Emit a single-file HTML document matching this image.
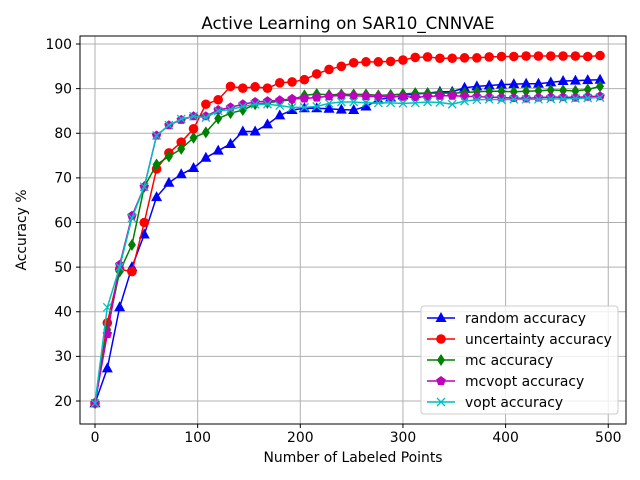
<!DOCTYPE html>
<html><head><meta charset="utf-8"><style>
body{margin:0;background:#fff}
svg{font-family:"DejaVu Sans","Liberation Sans",sans-serif;display:block}
</style></head><body>
<svg id="chart" width="640" height="480" viewBox="0 0 640 480">
<rect width="640" height="480" fill="#fff"/>
<text x="348" y="29" font-size="16.7" text-anchor="middle">Active Learning on SAR10_CNNVAE</text>
<g id="grid"></g><g id="ticks"></g><g id="series"></g>
<rect x="80" y="36" width="546" height="388" fill="none" stroke="#000" stroke-width="1"/>
<text x="353" y="462" font-size="13.9" text-anchor="middle">Number of Labeled Points</text>
<text transform="translate(26,230) rotate(-90)" font-size="13.9" text-anchor="middle">Accuracy %</text>
<g id="legend"></g>
</svg>
<script>
const xValues=[0,12,24,36,48,60,72,84,96,108,120,132,144,156,168,180,192,204,216,228,240,252,264,276,288,300,312,324,336,348,360,372,384,396,408,420,432,444,456,468,480,492];
const randomAcc=[19.5,27.3,41,50,57.3,65.7,68.9,70.8,72.2,74.5,76.1,77.6,80.4,80.4,82.0,84.0,85.2,85.6,85.6,85.5,85.3,85.2,86.0,87.5,88.0,88.5,88.8,89.0,89.3,89.3,90.2,90.5,90.7,90.9,91.0,91.1,91.1,91.4,91.7,91.8,91.9,92.0];
const uncertaintyAcc=[19.5,37.5,49.5,49,60,72,75.6,78,81,86.5,87.5,90.5,90.1,90.4,90.1,91.3,91.5,92,93.3,94.3,95,95.8,96,96,96.1,96.4,97,97.1,96.8,96.8,96.9,96.9,97.1,97.2,97.2,97.3,97.3,97.3,97.3,97.3,97.2,97.4];
const mcAcc=[19.5,36,49,55,68,73,74.8,76.5,79,80.2,83.3,84.5,85.2,86.5,86.8,87.2,87.5,88.5,88.8,88.6,88.7,88.7,88.7,88.5,88.6,88.8,89,89,89,89,89.1,89.3,89.4,89.4,89.3,89.4,89.5,89.7,89.6,89.5,89.8,90.5];
const mcvoptAcc=[19.5,35,50.5,61.5,68,79.5,81.8,83,83.8,83.8,85.2,85.8,86.5,87,87.2,87.4,87.7,87.8,88,88.3,88.5,88.4,88.3,88.2,88.2,88.2,88.1,88.2,88.4,88.4,88.3,88.2,88.1,88.0,87.9,87.8,88.0,88.1,88.1,88.0,88.2,88.3];
const voptAcc=[19.5,41,50,61,68,79.5,81.8,83.2,83.8,83.5,85,85.3,86,86.5,86.5,86.2,85.8,85.8,86,86.7,87,87,86.8,86.8,86.8,86.7,86.8,87,86.9,86.5,87.2,87.5,87.6,87.5,87.6,87.6,87.6,87.7,87.7,87.8,87.9,88.0];
const xTicks=[0,100,200,300,400,500];
const yTicks=[20,30,40,50,60,70,80,90,100];
const seriesNames=["random accuracy","uncertainty accuracy","mc accuracy","mcvopt accuracy","vopt accuracy"];

const NS="http://www.w3.org/2000/svg";
function X(v){return 95+v*1.0265;}
function Y(v){return 401-(v-20)*4.4625;}
function mk(tag,attrs,parent){const e=document.createElementNS(NS,tag);for(const k in attrs)e.setAttribute(k,attrs[k]);parent.appendChild(e);return e;}
const grid=document.getElementById('grid'),ticks=document.getElementById('ticks');
xTicks.forEach(t=>{
  const g=mk('line',{x1:X(t),x2:X(t),y1:36,y2:424,stroke:'#b0b0b0','stroke-width':1},grid);
  
  
  mk('line',{x1:X(t),x2:X(t),y1:424,y2:428,stroke:'#000'},ticks);
  const tx=mk('text',{x:X(t),y:442,'font-size':13.9,'text-anchor':'middle'},ticks);tx.textContent=t;
  
  
});
yTicks.forEach(t=>{
  const g=mk('line',{x1:80,x2:626,y1:Y(t),y2:Y(t),stroke:'#b0b0b0','stroke-width':1},grid);
  
  
  mk('line',{x1:76,x2:80,y1:Y(t),y2:Y(t),stroke:'#000'},ticks);
  const tx=mk('text',{x:72,y:Y(t)+4.8,'font-size':13.9,'text-anchor':'end'},ticks);tx.textContent=t;
  
  
});
function marker(type,x,y,color,parent){
  let e;
  if(type==='tri'){e=mk('polygon',{points:`${x},${y-6} ${x-5.5},${y+4} ${x+5.5},${y+4}`,fill:color},parent);}
  else if(type==='circ'){e=mk('circle',{cx:x,cy:y,r:4.8,fill:color},parent);}
  else if(type==='dia'){e=mk('polygon',{points:`${x},${y-6} ${x+4},${y} ${x},${y+6} ${x-4},${y}`,fill:color},parent);}
  else if(type==='pent'){let p=[];for(let i=0;i<5;i++){const a=-Math.PI/2+i*2*Math.PI/5;p.push((x+5*Math.cos(a)).toFixed(1)+','+(y+5*Math.sin(a)).toFixed(1));}e=mk('polygon',{points:p.join(' '),fill:color},parent);}
  else {e=mk('path',{d:`M${x-4},${y-4}L${x+4},${y+4}M${x-4},${y+4}L${x+4},${y-4}`,stroke:color,'stroke-width':1.3,fill:'none'},parent);}
  return e;
}
const seriesData=[randomAcc,uncertaintyAcc,mcAcc,mcvoptAcc,voptAcc];
const colors=['#0000ff','#ff0000','#008000','#bf00bf','#00bfbf'];
const markers=['tri','circ','dia','pent','x'];
const sg=document.getElementById('series');
seriesData.forEach((d,si)=>{
  const g=mk('g',{},sg);
  
  
  mk('polyline',{points:d.map((v,i)=>X(xValues[i])+','+Y(v)).join(' '),fill:'none',stroke:colors[si],'stroke-width':1.5},g);
  d.forEach((v,i)=>{const m=marker(markers[si],X(xValues[i]),Y(v),colors[si],g);
    
    });
});
const lg=document.getElementById('legend');
const box=mk('rect',{x:421,y:306,width:197,height:108,rx:3,fill:'#fff','fill-opacity':0.8,stroke:'#ccc'},lg);


seriesNames.forEach((n,i)=>{
  const y=318+i*21;
  const g=mk('g',{},lg);
  
  
  mk('line',{x1:427,x2:455,y1:y,y2:y,stroke:colors[i],'stroke-width':1.5},g);
  marker(markers[i],441,y,colors[i],g);
  const t=mk('text',{x:465,y:y+4.8,'font-size':13.9},g);t.textContent=n;
});
</script>
</body></html>
